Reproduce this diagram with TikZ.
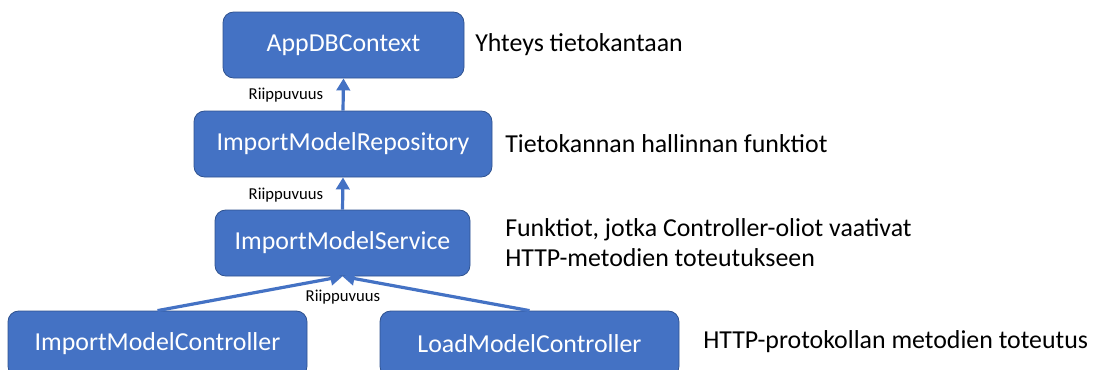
\documentclass[tikz,border=0pt]{standalone}
\usepackage{fontspec}
\setmainfont{Carlito}
\usetikzlibrary{arrows.meta}
\definecolor{boxblue}{HTML}{4472C4}
\definecolor{boxedge}{HTML}{2F528F}
\tikzset{
  classbox/.style={draw=boxedge, line width=0.6pt, fill=boxblue, rounded corners=8pt,
    text=white, font=\fontsize{19.4pt}{22pt}\selectfont, inner sep=0pt},
  note/.style={anchor=west, font=\fontsize{19.4pt}{23pt}\selectfont, align=left, inner sep=0pt},
  deplabel/.style={font=\fontsize{12.5pt}{14pt}\selectfont, inner sep=0pt},
  dep/.style={draw=boxblue, line width=2.4pt, -{Triangle[length=9pt,width=10pt]}}
}
\begin{document}
\begin{tikzpicture}[x=0.75pt,y=-0.75pt]
\useasboundingbox (0,0) rectangle (1094,369);
\clip (0,0) rectangle (1094,369);
\node[classbox, minimum width=241*0.75pt, minimum height=66*0.75pt] (ctx) at (343.5,45) {AppDBContext};
\node[classbox, minimum width=298*0.75pt, minimum height=66*0.75pt] (repo) at (343,144) {ImportModelRepository};
\node[classbox, minimum width=255*0.75pt, minimum height=66*0.75pt] (serv) at (342.5,243) {ImportModelService};
\node[classbox, minimum width=299*0.75pt, minimum height=66*0.75pt] (ictl) at (157.5,344) {ImportModelController};
\node[classbox, minimum width=299*0.75pt, minimum height=66*0.75pt] (lctl) at (529.5,344) {LoadModelController};

\node[note] (n1) at (475,45) {Yhteys tietokantaan};
\node[note] (n2) at (505,144) {Tietokannan hallinnan funktiot};
\node[note] (n3) at (505,242.5) {Funktiot, jotka Controller-oliot vaativat\\HTTP-metodien toteutukseen};
\node[note] (n4) at (703,342) {HTTP-protokollan metodien toteutus};

\draw[dep] (repo.north) -- (ctx.south);
\draw[dep] (serv.north) -- (repo.south);
\draw[dep] (ictl.north) -- (serv.south);
\draw[dep] (lctl.north) -- (serv.south);

\node[deplabel] (l1) at (286,95) {Riippuvuus};
\node[deplabel] (l2) at (286,195) {Riippuvuus};
\node[deplabel] (l3) at (343,297) {Riippuvuus};
\end{tikzpicture}
\end{document}
